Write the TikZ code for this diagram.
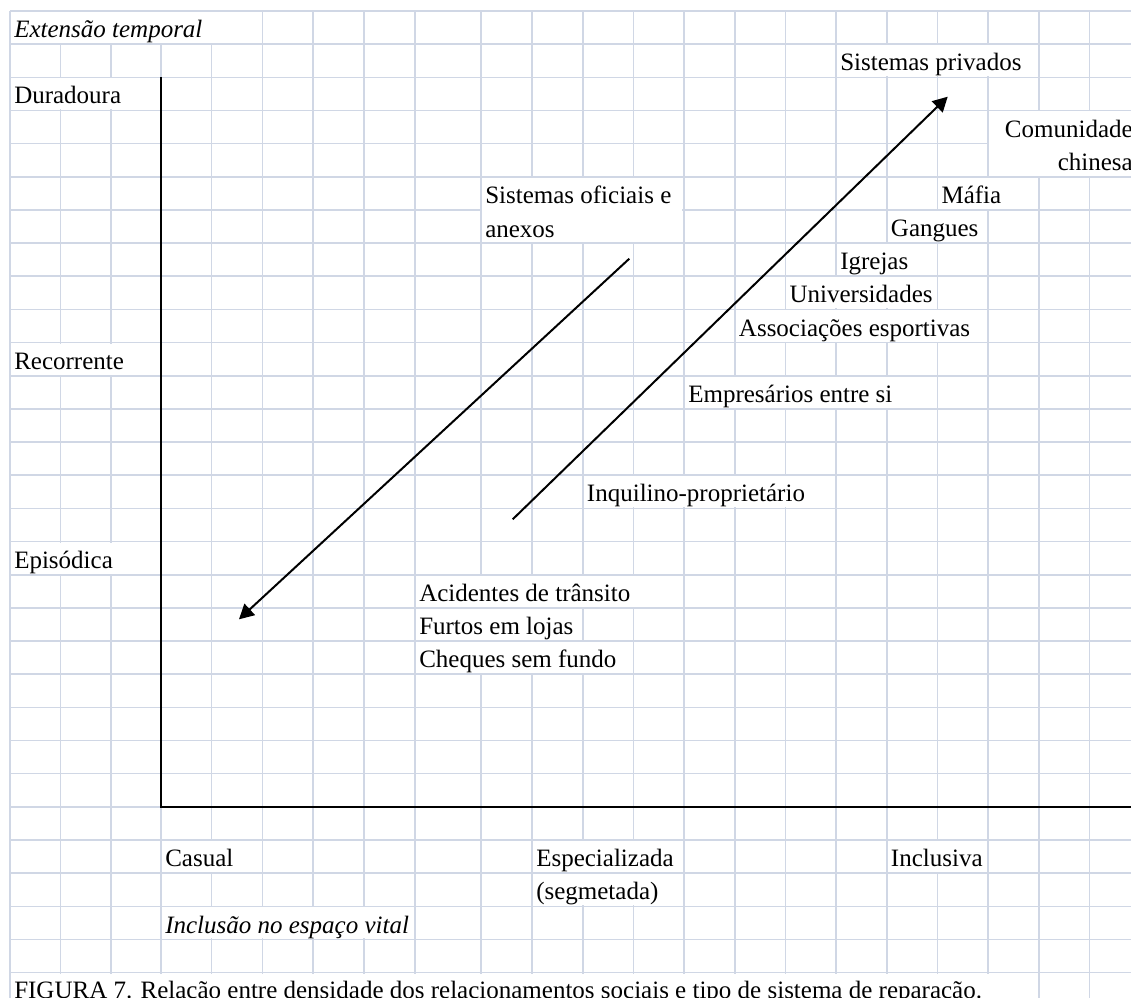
\documentclass[tikz,border=0pt]{standalone}
\usepackage{fontspec}
\setmainfont{Liberation Serif}
\usetikzlibrary{arrows.meta}
\definecolor{gridc}{RGB}{208,215,229}
\tikzset{
  gridline/.style={draw=gridc, line width=1.2pt},
  lbl/.style={anchor=base west, inner sep=0pt, font=\fontsize{18.75}{22}\selectfont},
  lblr/.style={anchor=base east, inner sep=0pt, font=\fontsize{18.75}{22}\selectfont},
  ilbl/.style={lbl, font=\fontsize{18.75}{22}\selectfont\itshape},
  cover/.style={fill=white, draw=none},
  axisline/.style={line width=1.5pt, black},
  arrline/.style={line width=1.5pt, black, -{Triangle[length=11pt,width=11.5pt]}}
}
\newcommand{\hidecells}[4]{\fill[white] ({#1+1},{11+33.16*#2+1}) rectangle ({#3-1},{11+33.16*#4-1});}
\begin{document}
\begin{tikzpicture}[x=0.75pt,y=-0.75pt]
\useasboundingbox (0,0) rectangle (1131,998);
\clip (0,0) rectangle (1131,998);
% grid
\foreach \gx in {10,60.5,111,161,211.6,262.3,313,364,415,481,532,582.7,633.3,684,734.7,785.3,836,886.7,937.3,988,1038.7,1089.3}
  \draw[gridline] (\gx,11) -- (\gx,1010);
\foreach \k in {0,...,29}
  \draw[gridline] (10,{11+33.16*\k}) -- (1140,{11+33.16*\k});
% hidden gridlines where text overflows
\hidecells{10}{0}{262.3}{1}
\hidecells{836}{1}{1038.7}{2}
\hidecells{10}{2}{161}{3}
\hidecells{988}{3}{1150}{5}
\hidecells{481}{5}{683.3}{7}
\hidecells{937.3}{5}{1038.7}{6}
\hidecells{886.7}{6}{988}{7}
\hidecells{836}{7}{937.3}{8}
\hidecells{785.3}{8}{937.3}{9}
\hidecells{734.7}{9}{988}{10}
\hidecells{10}{10}{161}{11}
\hidecells{684}{11}{937.3}{12}
\hidecells{582.7}{14}{836}{15}
\hidecells{10}{16}{161}{17}
\hidecells{415}{17}{684}{18}
\hidecells{415}{18}{582.7}{19}
\hidecells{415}{19}{633.3}{20}
\hidecells{161}{25}{262.3}{26}
\hidecells{532}{25}{684}{26}
\hidecells{886.7}{25}{988}{26}
\hidecells{532}{26}{684}{27}
\hidecells{161}{27}{415}{28}
\hidecells{10}{29}{1038.7}{30}
% axes
\coordinate (ytop) at (161,77.3);
\coordinate (orig) at (161,806.8);
\coordinate (xend) at (1140,806.8);
\draw[axisline] (ytop) -- (orig) -- (xend);
% arrows
\coordinate (a1s) at (629.3,258.7);
\coordinate (a1e) at (239,619.3);
\coordinate (a2s) at (512.7,519.3);
\coordinate (a2e) at (947.7,96.7);
\draw[arrline] (a1s) -- (a1e);
\draw[arrline] (a2s) -- (a2e);
% labels
\node[ilbl] (ext) at (14,37.7) {Extensão temporal};
\node[lbl] (sp) at (840,70.5) {Sistemas privados};
\node[lbl] (dur) at (14,104) {Duradoura};
\node[lblr] (com) at (1133,137.2) {Comunidade};
\node[lblr] (chi) at (1133,170.5) {chinesa};
\node[lbl] (so1) at (485,203.5) {Sistemas oficiais e};
\node[lbl] (so2) at (485,237.5) {anexos};
\node[lbl] (maf) at (941.3,203.5) {Máfia};
\node[lbl] (gan) at (890.7,236.6) {Gangues};
\node[lbl] (igr) at (840,269.8) {Igrejas};
\node[lbl] (uni) at (789.3,302.9) {Universidades};
\node[lbl] (ass) at (738.7,336.1) {Associações esportivas};
\node[lbl] (rec) at (14,369.3) {Recorrente};
\node[lbl] (emp) at (688,402.4) {Empresários entre si};
\node[lbl] (inq) at (586.7,501.9) {Inquilino-proprietário};
\node[lbl] (epi) at (14,568.2) {Episódica};
\node[lbl] (aci) at (419,601.4) {Acidentes de trânsito};
\node[lbl] (fur) at (419,634.5) {Furtos em lojas};
\node[lbl] (che) at (419,667.7) {Cheques sem fundo};
\node[lbl] (cas) at (165,866.5) {Casual};
\node[lbl] (esp) at (536,866.5) {Especializada};
\node[lbl] (inc) at (890.7,866.5) {Inclusiva};
\node[lbl] (seg) at (536,899.7) {(segmetada)};
\node[ilbl] (ins) at (165,933) {Inclusão no espaço vital};
\node[lbl] (cap) at (14,998.5) {FIGURA 7. Relação entre densidade dos relacionamentos sociais e tipo de sistema de reparação.};
\end{tikzpicture}
\end{document}
